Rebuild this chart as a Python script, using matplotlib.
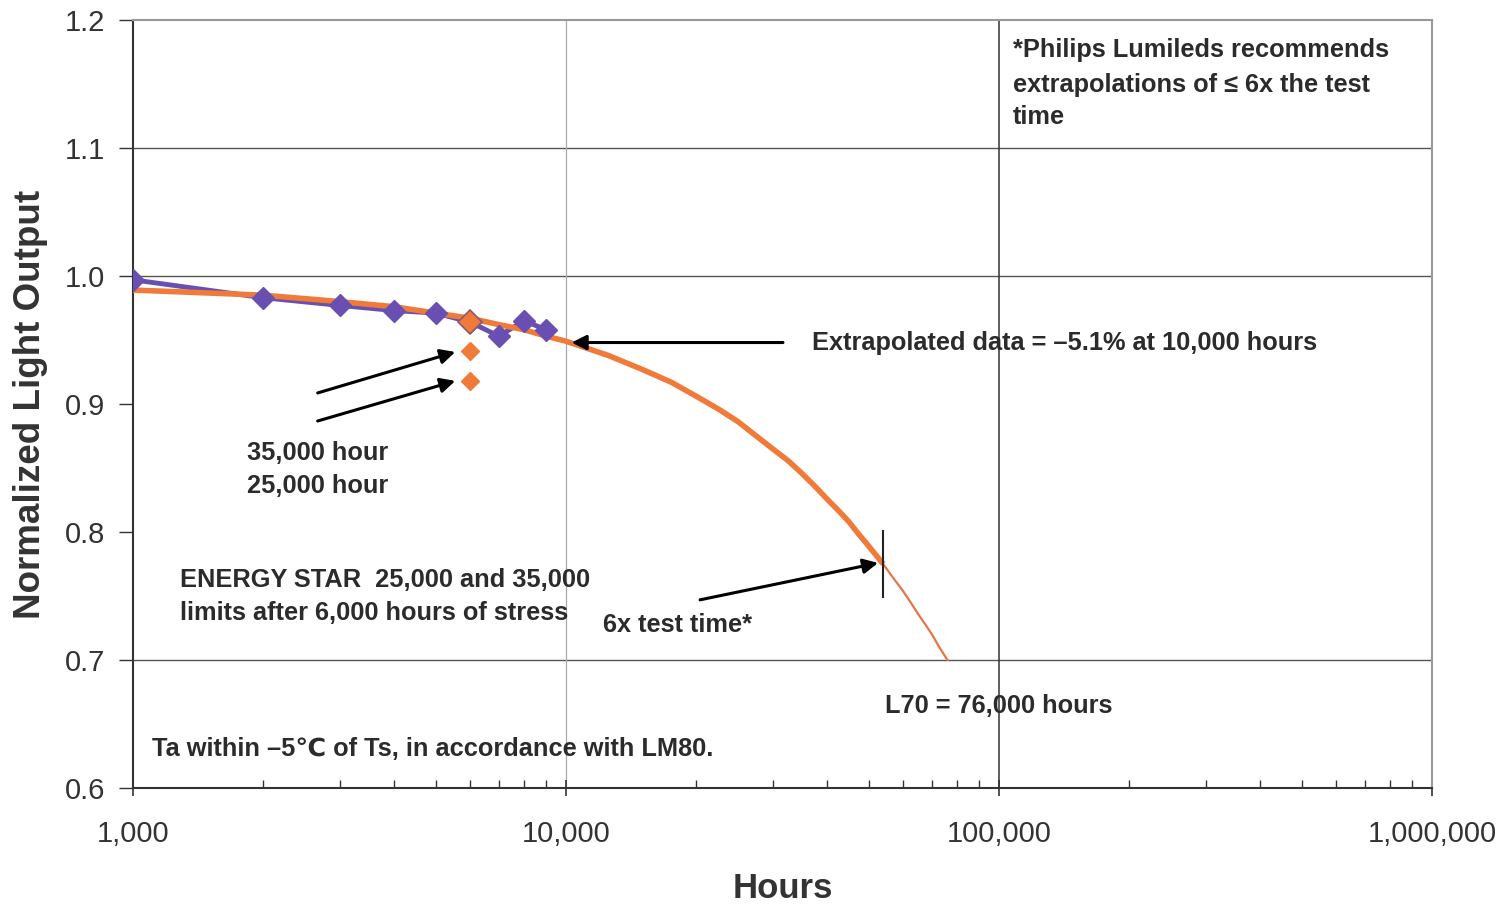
import numpy as np
import matplotlib.pyplot as plt
from matplotlib.ticker import FixedLocator, FuncFormatter, LogLocator, NullFormatter

plt.rcParams['font.family'] = ['Liberation Sans', 'DejaVu Sans']

# measured data (LM80 test points)
test_hours = [1000, 2000, 3000, 4000, 5000, 6000, 7000, 8000, 9000]
test_output = [0.997, 0.983, 0.977, 0.973, 0.971, 0.964, 0.953, 0.965, 0.958]

# ENERGY STAR check points at 6,000 hours
star_hours = [6000, 6000, 6000]
star_output = [0.964, 0.941, 0.918]

# exponential fit
fit_hours = [1000, 2000, 3000, 4000, 5000, 6000, 7000, 8000, 9000, 10000,
             12500, 15000, 17500, 20000, 22500, 25000, 27500, 30000, 32500,
             35000, 37500, 40000, 42500, 45000, 47500, 50000, 54000]
fit_output = [0.989, 0.985, 0.980, 0.976, 0.971, 0.967, 0.962, 0.958, 0.953, 0.949,
              0.938, 0.927, 0.917, 0.906, 0.896, 0.886, 0.875, 0.865, 0.856,
              0.846, 0.836, 0.826, 0.817, 0.808, 0.798, 0.789, 0.775]
extrap_hours = [54000, 57000, 60000, 62500, 65000, 67500, 70000, 72500, 76000]
extrap_output = [0.775, 0.764, 0.754, 0.745, 0.736, 0.728, 0.720, 0.711, 0.700]

y_ticks = [0.6, 0.7, 0.8, 0.9, 1.0, 1.1, 1.2]
x_ticks = [1000, 10000, 100000, 1000000]

text_col = '#2b2b2b'
purple = '#6a4fb3'
orange = '#ef7a3a'

fig = plt.figure(figsize=(15.06, 9.07), dpi=100)
ax = fig.add_axes([0.0883, 0.1312, 0.8626, 0.8468])

ax.set_xscale('log')
ax.set_xlim(1000, 1000000)
ax.set_ylim(0.6, 1.2)

# grid lines only where the original has them
for yv in [0.7, 1.0, 1.1]:
    ax.axhline(yv, color='#555555', lw=1.0, zorder=1)
ax.axvline(10000, color='#aaaaaa', lw=0.9, zorder=1)
ax.axvline(100000, color='#333333', lw=1.1, zorder=1)

ax.plot(test_hours, test_output, color=purple, lw=3.5, zorder=2)
ax.plot(fit_hours, fit_output, color=orange, lw=4, zorder=3,
        solid_capstyle='butt', solid_joinstyle='round')
ax.plot(extrap_hours, extrap_output, color='#e8744c', lw=1.6, zorder=3)
ax.plot(test_hours, test_output, 'D', color=purple, ms=11, mec=purple, zorder=4)
ax.plot(star_hours[:1], star_output[:1], 'D', color=orange, ms=12, mec='#8a5a70', mew=1.2, zorder=5)
ax.plot(star_hours[1:], star_output[1:], 'D', color=orange, ms=9, mec=orange, zorder=5)

# 6x test time marker
ax.plot([54000, 54000], [0.749, 0.801], color='#222222', lw=1.5, zorder=6)

arrow = dict(arrowstyle='-|>', color='black', lw=2.2, mutation_scale=22, shrinkA=0, shrinkB=0)
ax.annotate('', xy=(10300, 0.948), xytext=(31700, 0.948), arrowprops=arrow, zorder=6)
ax.annotate('', xy=(5550, 0.9406), xytext=(2670, 0.9086), arrowprops=arrow, zorder=6)
ax.annotate('', xy=(5550, 0.918), xytext=(2670, 0.8867), arrowprops=arrow, zorder=6)
ax.annotate('', xy=(52560, 0.7758), xytext=(20400, 0.747), arrowprops=arrow, zorder=6)

tkw = dict(color=text_col, fontsize=18.3, fontweight='bold')
ax.text(37000, 0.948, 'Extrapolated data = \u20135.1% at 10,000 hours', va='center', **tkw)
ax.text(1833, 0.8617, '35,000 hour', va='center', **tkw)
ax.text(1833, 0.836, '25,000 hour', va='center', **tkw)
ax.text(1284, 0.7625, 'ENERGY STAR  25,000 and 35,000', va='center', **tkw)
ax.text(1284, 0.7367, 'limits after 6,000 hours of stress', va='center', **tkw)
ax.text(12180, 0.727, '6x test time*', va='center', **tkw)
ax.text(54550, 0.664, 'L70 = 76,000 hours', va='center', **tkw)
ax.text(1106, 0.6305, 'Ta within \u20135\u2103 of Ts, in accordance with LM80.', va='center', **tkw)
ax.text(107700, 1.1762, '*Philips Lumileds recommends', va='center', **tkw)
ax.text(107700, 1.1492, 'extrapolations of \u2264 6x the test', va='center', **tkw)
ax.text(107700, 1.1242, 'time', va='center', **tkw)

# axes styling
ax.xaxis.set_major_locator(FixedLocator(x_ticks))
ax.xaxis.set_minor_locator(LogLocator(base=10, subs=np.arange(2, 10)))
ax.xaxis.set_minor_formatter(NullFormatter())
ax.xaxis.set_major_formatter(FuncFormatter(lambda v, p: f'{v:,.0f}'))
ax.yaxis.set_major_locator(FixedLocator(y_ticks))
ax.yaxis.set_major_formatter(FuncFormatter(lambda v, p: f'{v:.1f}'))

ax.tick_params(axis='x', which='major', direction='inout', length=12, width=1.2,
               labelsize=21, labelcolor='#333333', pad=17, color='#333333')
ax.tick_params(axis='x', which='minor', direction='in', length=6, width=1, color='#333333')
ax.tick_params(axis='y', which='major', direction='out', length=10, width=1,
               labelsize=21, labelcolor='#333333', pad=10, color='#333333')

for side in ['left', 'bottom']:
    ax.spines[side].set_color('#333333')
    ax.spines[side].set_linewidth(1.5)
for side in ['top', 'right']:
    ax.spines[side].set_color('#999999')
    ax.spines[side].set_linewidth(1.5)

ax.set_xlabel('Hours', fontsize=25, fontweight='bold', color='#333333', labelpad=17)
ax.set_ylabel('Normalized Light Output', fontsize=26.5, fontweight='bold', color='#333333', labelpad=12)

fig.savefig('out.png', dpi=100)
